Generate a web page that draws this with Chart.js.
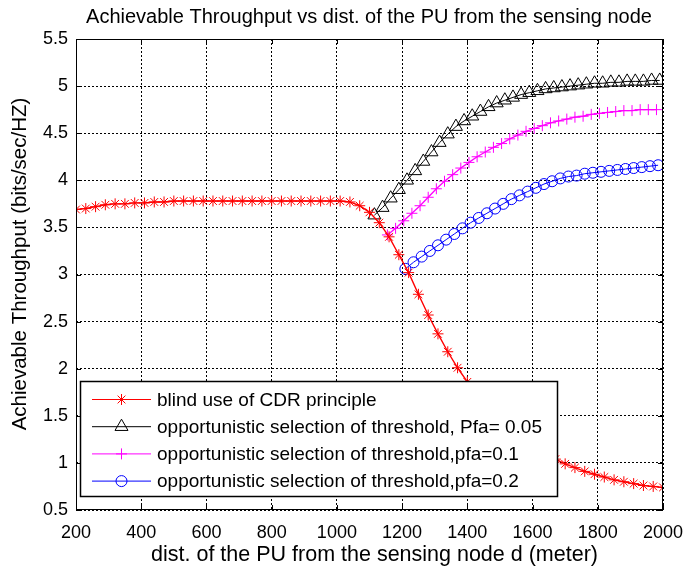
<!DOCTYPE html>
<html>
<head>
<meta charset="utf-8">
<script src="https://cdn.jsdelivr.net/npm/chart.js@4/dist/chart.umd.min.js"></script>
<style>
  html, body { margin: 0; padding: 0; background: #fff; }
  #wrap { width: 685px; height: 572px; }
</style>
</head>
<body>
<div id="wrap"><canvas id="chart" width="685" height="572"></canvas></div>
<script>
// blind use of CDR principle
const blindX = [200, 230, 260, 290, 320, 350, 380, 410, 440, 470,
  500, 530, 560, 590, 620, 650, 680, 710, 740, 770, 800, 830, 860, 890, 920, 950, 980, 1010,
  1040, 1070, 1100, 1130, 1160, 1190, 1220, 1250, 1280, 1310, 1340, 1370, 1400, 1430, 1460,
  1490, 1520, 1550, 1580, 1610, 1640, 1670, 1700, 1730, 1760, 1790, 1820, 1850, 1880, 1910,
  1940, 1970, 2000];
const blindY = [3.69, 3.70, 3.72, 3.74, 3.75, 3.75, 3.76, 3.76, 3.77, 3.77,
  3.78, 3.78, 3.78, 3.78, 3.78, 3.78, 3.78, 3.78, 3.78, 3.78, 3.78, 3.78, 3.78, 3.78, 3.78, 3.78, 3.78, 3.78,
  3.77, 3.73, 3.66, 3.55, 3.40, 3.21, 3.02, 2.79, 2.57, 2.37, 2.18, 2.01, 1.86, 1.73, 1.61,
  1.50, 1.40, 1.31, 1.23, 1.16, 1.10, 1.04, 0.99, 0.95, 0.91, 0.88, 0.85, 0.82, 0.80, 0.78,
  0.76, 0.75, 0.74];

// opportunistic, Pfa = 0.05
const pfa005X = [1115, 1140, 1165, 1190, 1215, 1240, 1265, 1290, 1315, 1340, 1365, 1390,
  1415, 1440, 1465, 1490, 1515, 1540, 1565, 1590, 1615, 1640, 1665, 1690, 1715, 1740,
  1765, 1790, 1815, 1840, 1865, 1890, 1915, 1940, 1965, 1990];
const pfa005Y = [3.63, 3.71, 3.81, 3.90, 4.00, 4.10, 4.20, 4.30, 4.40, 4.49, 4.57, 4.63,
  4.68, 4.73, 4.78, 4.82, 4.85, 4.88, 4.91, 4.93, 4.95, 4.97, 4.98, 4.99, 5.00, 5.01,
  5.02, 5.03, 5.03, 5.04, 5.04, 5.05, 5.05, 5.05, 5.06, 5.06];

// opportunistic, pfa = 0.1
const pfa01X = [1155, 1180, 1205, 1230, 1255, 1280, 1305, 1330, 1355, 1380, 1405, 1430,
  1455, 1480, 1505, 1530, 1555, 1580, 1605, 1630, 1655, 1680, 1705, 1730, 1755, 1780,
  1805, 1830, 1855, 1880, 1905, 1930, 1955, 1980];
const pfa01Y = [3.42, 3.49, 3.57, 3.65, 3.73, 3.82, 3.91, 3.99, 4.06, 4.13, 4.19, 4.25,
  4.30, 4.35, 4.39, 4.44, 4.48, 4.52, 4.55, 4.58, 4.61, 4.63, 4.65, 4.67, 4.68, 4.70,
  4.71, 4.72, 4.73, 4.74, 4.74, 4.75, 4.75, 4.75];

// opportunistic, pfa = 0.2
const pfa02X = [1210, 1235, 1260, 1285, 1310, 1335, 1360, 1385, 1410, 1435, 1460, 1485,
  1510, 1535, 1560, 1585, 1610, 1635, 1660, 1685, 1710, 1735, 1760, 1785, 1810, 1835,
  1860, 1885, 1910, 1935, 1960, 1985];
const pfa02Y = [3.06, 3.13, 3.19, 3.25, 3.31, 3.37, 3.43, 3.49, 3.55, 3.60, 3.65, 3.70,
  3.75, 3.80, 3.84, 3.88, 3.92, 3.96, 3.99, 4.02, 4.04, 4.05, 4.07, 4.08, 4.09, 4.10,
  4.11, 4.12, 4.13, 4.14, 4.15, 4.16];

const seriesLabels = [
  'blind use of CDR principle',
  'opportunistic selection of threshold, Pfa= 0.05',
  'opportunistic selection of threshold,pfa=0.1',
  'opportunistic selection of threshold,pfa=0.2'
];

const FONT = '"Liberation Sans", Arial, Helvetica, sans-serif';

function pts(xs, ys) {
  return xs.map((x, i) => ({ x: x, y: ys[i] }));
}

function mkSet(label, xs, ys, color, style, radius, width) {
  return {
    label: label,
    data: pts(xs, ys),
    borderColor: color,
    borderWidth: width,
    pointStyle: style,
    pointRadius: radius,
    pointHoverRadius: radius,
    pointBorderColor: color,
    pointBackgroundColor: 'rgba(0,0,0,0)',
    pointBorderWidth: 1,
    tension: 0,
    fill: false
  };
}

// draw one marker the way chart.js does (for the legend)
function marker(ctx, style, x, y, r) {
  ctx.beginPath();
  if (style === 'star' || style === 'cross') {
    ctx.moveTo(x, y - r); ctx.lineTo(x, y + r);
    ctx.moveTo(x - r, y); ctx.lineTo(x + r, y);
    if (style === 'star') {
      const d = r * Math.SQRT1_2;
      ctx.moveTo(x - d, y - d); ctx.lineTo(x + d, y + d);
      ctx.moveTo(x - d, y + d); ctx.lineTo(x + d, y - d);
    }
  } else if (style === 'triangle') {
    for (let k = 0; k < 3; k++) {
      const a = k * 2 * Math.PI / 3;
      const px = x + Math.sin(a) * r, py = y - Math.cos(a) * r;
      if (k === 0) ctx.moveTo(px, py); else ctx.lineTo(px, py);
    }
    ctx.closePath();
  } else {
    ctx.arc(x, y, r, 0, Math.PI * 2);
  }
  ctx.stroke();
}

const decorations = {
  id: 'decorations',
  afterDraw(chart) {
    const { ctx, chartArea: a, scales } = chart;
    ctx.save();
    ctx.setLineDash([]);
    ctx.strokeStyle = '#000';
    ctx.lineWidth = 1;

    // inward ticks on all four sides
    ctx.beginPath();
    scales.x.ticks.forEach(t => {
      const px = Math.round(scales.x.getPixelForValue(t.value)) + 0.5;
      ctx.moveTo(px, a.bottom); ctx.lineTo(px, a.bottom - 5);
      ctx.moveTo(px, a.top); ctx.lineTo(px, a.top + 5);
    });
    scales.y.ticks.forEach(t => {
      const py = Math.round(scales.y.getPixelForValue(t.value)) + 0.5;
      ctx.moveTo(a.left, py); ctx.lineTo(a.left + 5, py);
      ctx.moveTo(a.right, py); ctx.lineTo(a.right - 5, py);
    });
    ctx.stroke();

    // box
    ctx.strokeRect(Math.round(a.left) + 0.5, Math.round(a.top) + 0.5,
      Math.round(a.width) - 1, Math.round(a.height) - 1);

    // title and axis titles
    ctx.fillStyle = '#000';
    ctx.textAlign = 'center';
    ctx.textBaseline = 'middle';
    ctx.font = '20px ' + FONT;
    ctx.fillText('Achievable Throughput vs dist. of the PU from the sensing node', 369, 17);
    ctx.font = '21.5px ' + FONT;
    ctx.fillText('dist. of the PU from the sensing node d (meter)', 374.5, 555);
    ctx.save();
    ctx.translate(20, 264);
    ctx.rotate(-Math.PI / 2);
    ctx.font = '20.5px ' + FONT;
    ctx.fillText('Achievable Throughput (bits/sec/HZ)', 0, 0);
    ctx.restore();

    // legend box
    const lx = 80.5, ly = 381.5, lw = 477, lh = 115;
    ctx.fillStyle = '#fff';
    ctx.fillRect(lx, ly, lw, lh);
    ctx.lineWidth = 1.5;
    ctx.strokeRect(lx, ly, lw, lh);

    ctx.font = '19px ' + FONT;
    ctx.textAlign = 'left';
    ctx.textBaseline = 'middle';
    chart.data.datasets.forEach((ds, i) => {
      const yy = 399.5 + i * 27.2;
      ctx.strokeStyle = ds.borderColor;
      ctx.lineWidth = 1;
      ctx.beginPath();
      ctx.moveTo(92, yy); ctx.lineTo(151, yy);
      ctx.stroke();
      marker(ctx, ds.pointStyle, 121.5, yy, ds.pointRadius);
      ctx.fillStyle = '#000';
      ctx.fillText(ds.label, 157, yy + 1);
    });
    ctx.restore();
  }
};

new Chart(document.getElementById('chart'), {
  type: 'line',
  data: {
    datasets: [
      mkSet(seriesLabels[0], blindX, blindY, '#ff0000', 'star', 5.5, 1.4),
      mkSet(seriesLabels[1], pfa005X, pfa005Y, '#000000', 'triangle', 7.5, 1),
      mkSet(seriesLabels[2], pfa01X, pfa01Y, '#ff00ff', 'cross', 5.5, 1.3),
      mkSet(seriesLabels[3], pfa02X, pfa02Y, '#0000ff', 'circle', 5.5, 1)
    ]
  },
  options: {
    responsive: false,
    animation: false,
    devicePixelRatio: 1,
    layout: { padding: { top: 39, right: 22, left: 0, bottom: 0 } },
    plugins: {
      legend: { display: false },
      title: { display: false },
      tooltip: { enabled: false }
    },
    scales: {
      x: {
        type: 'linear',
        min: 200,
        max: 2000,
        afterFit: s => { s.height = 62; s.paddingLeft = 0; s.paddingRight = 0; },
        ticks: {
          stepSize: 200,
          color: '#000',
          font: { family: FONT, size: 18 },
          padding: 12,
          maxRotation: 0,
          callback: v => String(v)
        },
        grid: { color: '#000', lineWidth: 1, drawTicks: false },
        border: { display: false, dash: [2, 2] }
      },
      y: {
        min: 0.5,
        max: 5.5,
        afterFit: s => { s.width = 76; s.paddingTop = 0; s.paddingBottom = 0; },
        ticks: {
          stepSize: 0.5,
          color: '#000',
          font: { family: FONT, size: 18 },
          padding: 8,
          callback: v => String(v)
        },
        grid: { color: '#000', lineWidth: 1, drawTicks: false },
        border: { display: false, dash: [2, 2] }
      }
    }
  },
  plugins: [decorations]
});
</script>
</body>
</html>
